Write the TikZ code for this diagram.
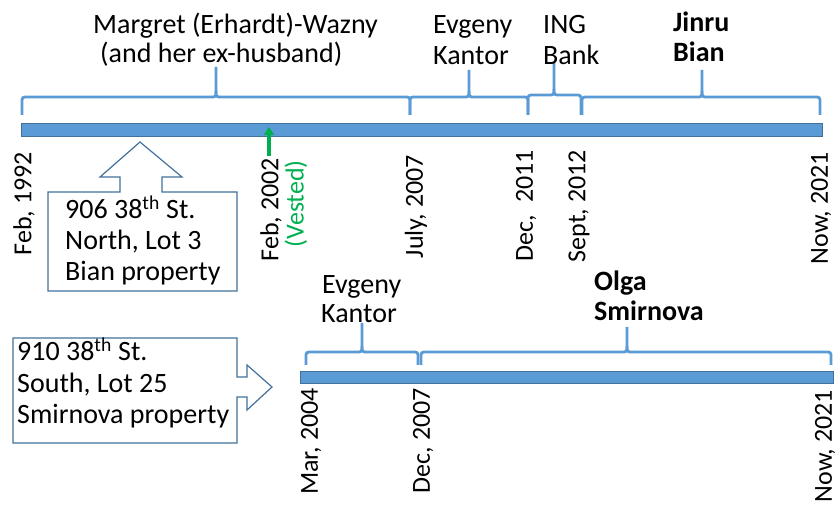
\documentclass[tikz,border=0pt]{standalone}
\usepackage{fontspec}
\setmainfont{Carlito}
\usetikzlibrary{arrows.meta}
\definecolor{barblue}{HTML}{5B9BD5}
\definecolor{barline}{HTML}{41719C}
\definecolor{vgreen}{HTML}{00B050}
\tikzset{
  bar/.style={fill=barblue, draw=barline, line width=0.8pt},
  bracestyle/.style={draw=barblue, line width=2.8pt, line join=round},
  lbl/.style={anchor=base west, inner sep=0pt, font=\fontsize{28}{33}\selectfont},
  blbl/.style={lbl, font=\fontsize{28}{33}\selectfont\bfseries},
  datelbl/.style={rotate=90, anchor=east, inner sep=0pt, font=\fontsize{26}{30}\selectfont},
  callout/.style={draw=barline, line width=1.2pt, fill=white, line join=miter},
}
% x1 xm x2 yh ytip yend
\newcommand\mybrace[6]{%
  \draw[bracestyle] (#1,#6) -- (#1,#4+6) .. controls (#1,#4) .. (#1+6,#4) -- (#2-6,#4) .. controls (#2,#4) .. (#2,#4-6) -- (#2,#5);
  \draw[bracestyle] (#2,#4-6) .. controls (#2,#4) .. (#2+6,#4) -- (#3-6,#4) .. controls (#3,#4) .. (#3,#4+6) -- (#3,#6);
}
\begin{document}
\begin{tikzpicture}[x=1pt,y=-1pt]
\useasboundingbox (0,0) rectangle (839,505);

% ---------- top timeline ----------
\draw[bar] (21,123) rectangle (822,136);
\mybrace{22}{216}{410}{97}{67}{115}
\mybrace{410}{469}{528}{97}{70}{115}
\mybrace{528}{554}{581}{95}{63}{115}
\mybrace{582}{702}{820}{97}{70}{115}

\node[lbl] (margret1) at (93,34) {Margret (Erhardt)-Wazny};
\node[lbl] (margret2) at (100,63) {(and her ex-husband)};
\node[lbl] (ek1) at (433,34) {Evgeny};
\node[lbl] (ek2) at (433,65) {Kantor};
\node[lbl] (ing1) at (543,34) {ING};
\node[lbl] (ing2) at (543,65) {Bank};
\node[blbl] (jb1) at (673,32) {Jinru};
\node[blbl] (jb2) at (673,62) {Bian};

\node[datelbl] (d1992) at (24,152) {Feb, 1992};
\node[datelbl] (d2002) at (271,158) {Feb, 2002};
\node[datelbl, text=vgreen] (vested) at (296,160) {(Vested)};
\node[datelbl] (d2007) at (416,155) {July, 2007};
\node[datelbl] (d2011) at (526,150) {Dec,\ \ 2011};
\node[datelbl] (d2012) at (579,150) {Sept, 2012};
\node[datelbl] (d2021) at (821,152) {Now, 2021};

\coordinate (vfoot) at (269,156);
\coordinate (vtip) at (269,127);
\draw[vgreen, line width=3.5pt, -{Triangle[width=10pt,length=8pt]}] (vfoot) -- (vtip);

\draw[callout] (48,192) -- (120,192) -- (120,177) -- (100,177) -- (140,142) -- (182,177)
  -- (162,177) -- (162,192) -- (237,192) -- (237,291) -- (48,291) -- cycle;
\node[lbl] (n1) at (65,219) {906 38\textsuperscript{th} St.};
\node[lbl] (n2) at (65,250) {North, Lot 3};
\node[lbl] (n3) at (65,281) {Bian property};

% ---------- bottom timeline ----------
\draw[bar] (300,371) rectangle (833,383);
\mybrace{306}{362}{418}{352}{323}{365}
\mybrace{421}{627}{831}{352}{327}{365}

\node[lbl] (bek1) at (322,294) {Evgeny};
\node[lbl] (bek2) at (321,323) {Kantor};
\node[blbl] (os1) at (594,291) {Olga};
\node[blbl] (os2) at (594,321) {Smirnova};

\node[datelbl] (m2004) at (311,388) {Mar, 2004};
\node[datelbl] (dd2007) at (423,388) {Dec, 2007};
\node[datelbl] (n2021) at (825,390) {Now, 2021};

\draw[callout] (13,338) -- (237,338) -- (237,377) -- (247,377) -- (247,365) -- (272,387)
  -- (247,410) -- (247,397) -- (237,397) -- (237,443) -- (13,443) -- cycle;
\node[lbl] (s1) at (17,361) {910 38\textsuperscript{th} St.};
\node[lbl] (s2) at (17,392) {South, Lot 25};
\node[lbl] (s3) at (17,423) {Smirnova property};
\end{tikzpicture}
\end{document}
